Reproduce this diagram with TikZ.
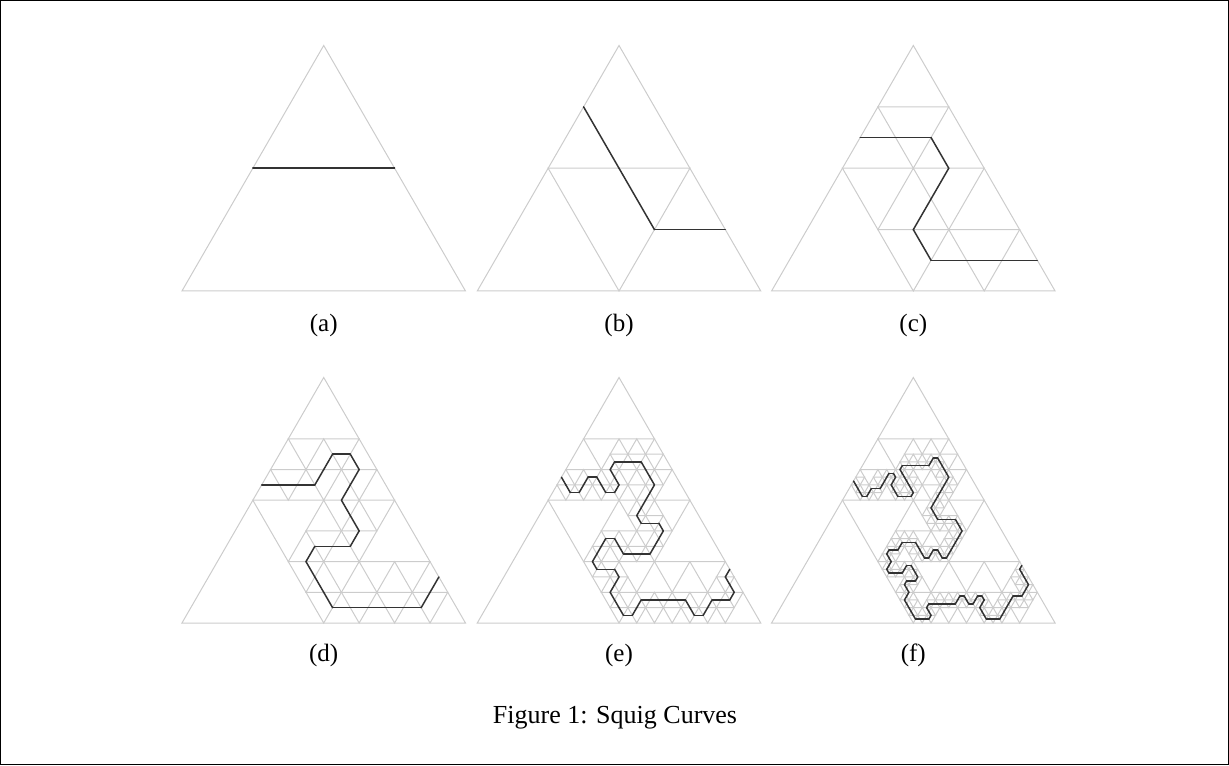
\documentclass[tikz,border=0pt]{standalone}
\usepackage{fontspec}
\setmainfont{Liberation Serif}
\tikzset{
  gridline/.style={draw=gray!40, line width=0.5pt},
  curveline/.style={draw=black!80, line width=0.75pt, line cap=round, line join=round},
  lbl/.style={font=\fontsize{12.5}{15}\selectfont, inner sep=0pt},
  frame/.style={draw=black, line width=0.5pt}
}
% curves of the successive levels, axial lattice coordinates (root side = 2^(k+1))
\def\LvA{0/1,1/1}
\def\LvB{0/3,1/2,2/1,3/1}
\def\LvC{0/5,1/5,2/5,3/4,3/3,3/2,4/1,5/1,6/1,7/1}
\def\LvD{0/9,1/9,2/9,3/9,3/10,3/11,4/11,5/10,5/9,5/8,6/7,7/6,7/5,6/5,5/5,5/4,6/3,7/2,8/1,9/1,10/1,11/1,12/1,13/1,13/2,13/3}
\def\LvE{0/19,1/18,2/17,3/17,3/18,3/19,4/19,5/18,6/17,7/17,7/18,6/19,5/20,5/21,6/21,7/21,8/21,9/20,10/19,11/18,11/17,11/16,11/15,11/14,12/13,13/13,14/13,15/12,15/11,15/10,15/9,14/9,13/9,12/9,11/10,10/11,9/11,9/10,9/9,9/8,10/7,11/7,12/7,13/6,13/5,13/4,14/3,15/2,16/1,17/1,17/2,17/3,18/3,19/3,20/3,21/3,22/3,23/2,24/1,25/1,25/2,25/3,26/3,27/3,27/4,26/5,25/6,25/7}
\def\LvF{0/37,1/36,2/35,3/34,4/33,5/33,5/34,5/35,6/35,7/35,7/36,7/37,7/38,7/39,8/39,9/38,9/37,9/36,10/35,11/34,12/33,13/33,14/33,15/33,15/34,14/35,13/36,12/37,11/38,10/39,9/40,9/41,10/41,11/41,12/41,13/41,14/41,15/41,15/42,15/43,16/43,17/42,18/41,19/40,20/39,21/38,21/37,21/36,21/35,21/34,21/33,21/32,21/31,21/30,22/29,23/28,24/27,25/27,26/27,27/27,28/27,29/26,30/25,31/24,31/23,31/22,31/21,31/20,31/19,31/18,31/17,30/17,29/18,28/19,27/19,27/18,27/17,26/17,25/18,24/19,23/20,22/21,21/21,20/21,19/21,19/20,19/19,18/19,17/19,17/18,18/17,19/16,19/15,19/14,20/13,21/13,22/13,23/13,23/14,23/15,24/15,25/14,26/13,27/12,27/11,26/11,25/11,25/10,26/9,27/8,27/7,27/6,28/5,29/4,30/3,31/2,32/1,33/1,34/1,35/1,35/2,34/3,33/4,33/5,34/5,35/5,36/5,37/5,38/5,39/5,39/6,39/7,40/7,41/6,42/5,43/5,43/6,43/7,44/7,45/6,45/5,45/4,46/3,47/2,48/1,49/1,50/1,51/1,51/2,51/3,51/4,51/5,51/6,51/7,52/7,53/7,53/8,53/9,53/10,52/11,51/12,50/13,49/14,49/15}

\newcommand\setlevel[1]{%
  \pgfmathsetmacro\uu{141.75/(2^(#1+1))}%
  \pgfmathsetmacro\uh{0.5*\uu}%
  \pgfmathsetmacro\uv{0.8660254*\uu}}

% grey subdivision: midpoint triangle of every triangle crossed at level #3
\newcommand\drawgrid[4]{%
  \setlevel{#3}%
  \begin{scope}[shift={(#1pt,#2pt)}, x={(\uu pt,0pt)}, y={(\uh pt,\uv pt)}]
    \foreach \qu/\qv [count=\ii, remember=\qu as \pu (initially 0), remember=\qv as \pv (initially 0)] in #4 {%
      \ifnum\ii>1
        \pgfmathtruncatemacro\dA{\qu-\pu}%
        \pgfmathtruncatemacro\dB{\qv-\pv}%
        \pgfmathtruncatemacro\rA{\pu-\dB}%
        \pgfmathtruncatemacro\rB{\pv+\dA+\dB}%
        \pgfmathtruncatemacro\sA{\pu+\dA+\dB}%
        \pgfmathtruncatemacro\sB{\pv-\dA}%
        \pgfmathtruncatemacro\eE{mod(abs(\rA),2)+mod(abs(\rB),2)}%
        \ifnum\eE=0
          \draw[gridline] (\pu,\pv) -- (\qu,\qv) -- (\sA,\sB) -- cycle;
        \else
          \draw[gridline] (\pu,\pv) -- (\qu,\qv) -- (\rA,\rB) -- cycle;
        \fi
      \fi
    }
  \end{scope}}

\newcommand\drawcurve[4]{%
  \setlevel{#3}%
  \begin{scope}[shift={(#1pt,#2pt)}, x={(\uu pt,0pt)}, y={(\uh pt,\uv pt)}]
    \foreach \qu/\qv [count=\ii, remember=\qu as \pu (initially 0), remember=\qv as \pv (initially 0)] in #4 {%
      \ifnum\ii>1 \draw[curveline] (\pu,\pv) -- (\qu,\qv); \fi
    }
  \end{scope}}

\newcommand\outertri[2]{%
  \setlevel{0}%
  \begin{scope}[shift={(#1pt,#2pt)}, x={(\uu pt,0pt)}, y={(\uh pt,\uv pt)}]
    \draw[gridline] (0,0) -- (2,0) -- (0,2) -- cycle;
  \end{scope}}

\begin{document}
\begin{tikzpicture}
\useasboundingbox (0,0) rectangle (614.5pt,382.5pt);
\draw[frame] (0.25pt,0.25pt) rectangle (614.25pt,382.25pt);

% (a)
\outertri{90.98}{237}
\drawcurve{90.98}{237}{0}{\LvA}
% (b)
\outertri{238.63}{237}
\drawgrid{238.63}{237}{0}{\LvA}
\drawcurve{238.63}{237}{1}{\LvB}
% (c)
\outertri{385.78}{237}
\drawgrid{385.78}{237}{0}{\LvA}
\drawgrid{385.78}{237}{1}{\LvB}
\drawcurve{385.78}{237}{2}{\LvC}
% (d)
\outertri{90.98}{71}
\drawgrid{90.98}{71}{0}{\LvA}
\drawgrid{90.98}{71}{1}{\LvB}
\drawgrid{90.98}{71}{2}{\LvC}
\drawcurve{90.98}{71}{3}{\LvD}
% (e)
\outertri{238.63}{71}
\drawgrid{238.63}{71}{0}{\LvA}
\drawgrid{238.63}{71}{1}{\LvB}
\drawgrid{238.63}{71}{2}{\LvC}
\drawgrid{238.63}{71}{3}{\LvD}
\drawcurve{238.63}{71}{4}{\LvE}
% (f)
\outertri{385.78}{71}
\drawgrid{385.78}{71}{0}{\LvA}
\drawgrid{385.78}{71}{1}{\LvB}
\drawgrid{385.78}{71}{2}{\LvC}
\drawgrid{385.78}{71}{3}{\LvD}
\drawgrid{385.78}{71}{4}{\LvE}
\drawcurve{385.78}{71}{5}{\LvF}

\node[lbl] (la) at (161.85pt,220pt) {(a)};
\node[lbl] (lb) at (309.5pt,220pt) {(b)};
\node[lbl] (lc) at (456.65pt,220pt) {(c)};
\node[lbl] (ld) at (161.85pt,55pt) {(d)};
\node[lbl] (le) at (309.5pt,55pt) {(e)};
\node[lbl] (lf) at (456.65pt,55pt) {(f)};
\node[lbl, font=\fontsize{13}{16}\selectfont] (cap) at (307.5pt,23.5pt) {Figure 1: Squig Curves};
\end{tikzpicture}
\end{document}
